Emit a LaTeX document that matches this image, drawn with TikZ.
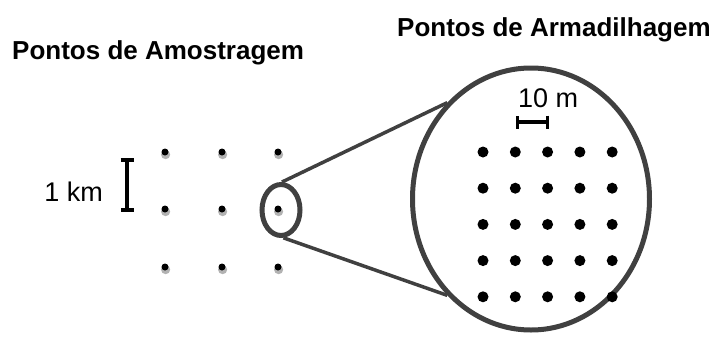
\documentclass[tikz,border=0pt]{standalone}
\usepackage{fontspec}
\setmainfont{Liberation Sans}
\usetikzlibrary{arrows.meta, positioning, shapes.geometric}
\definecolor{ringgray}{RGB}{64, 64, 64}
\definecolor{shadowgray}{RGB}{178, 178, 178}

\begin{document}
\begin{tikzpicture}[
    x=1pt, y=-1pt,
    title/.style={font=\fontsize{26}{30}\selectfont\bfseries, inner sep=0pt},
    scalelabel/.style={font=\fontsize{27}{31}\selectfont, inner sep=0pt},
    site/.style={circle, fill=black, inner sep=0pt, minimum size=7pt},
    trap/.style={circle, fill=black, inner sep=0pt, minimum size=11pt},
    ring/.style={draw=ringgray, line width=5pt, ellipse, inner sep=0pt},
    zoomline/.style={draw=ringgray, line width=3.5pt},
    scalebar/.style={line width=4pt}
]
\useasboundingbox (0,0) rectangle (716,338);

% Titles
\node[title, anchor=base west] (sampling) at (12,59) {Pontos de Amostragem};
\node[title, anchor=base west] (trapping) at (397,36) {Pontos de Armadilhagem};

% Sampling grid (1 km)
\foreach \r/\y in {1/152, 2/209, 3/267}
  \foreach \c/\x in {1/165, 2/222, 3/278} {
    \fill[shadowgray] (\x+0.6,\y+2.6) circle (4.6);
    \node[site] (site-\r-\c) at (\x,\y) {};
  }

\coordinate (kmtop) at (127,158);
\coordinate (kmbot) at (127,212);
\draw[scalebar, {Bar[width=13pt]}-{Bar[width=13pt]}] (kmtop) -- (kmbot);
\node[scalelabel, anchor=base east] (kmlabel) at (103,201) {1 km};

% Zoom on one sampling point
\node[ring, minimum width=38pt, minimum height=51pt] (spot) at (281,210) {};
\node[ring, minimum width=237pt, minimum height=262pt] (lens) at (531,199) {};
\draw[zoomline] (spot.88) -- (lens.131);
\draw[zoomline] (spot.275) -- (lens.229);

% Trap grid (10 m)
\foreach \r in {0,...,4}
  \foreach \c in {0,...,4}
    \node[trap] (trap-\r-\c) at ({483+32.3*\c},{152+36.2*\r}) {};

\coordinate (mleft) at (516,122);
\coordinate (mright) at (549,122);
\draw[scalebar, line width=3.2pt, {Bar[width=13pt]}-{Bar[width=13pt]}] (mleft) -- (mright);
\node[scalelabel, anchor=base west] (mlabel) at (518,107) {10 m};

\end{tikzpicture}
\end{document}
